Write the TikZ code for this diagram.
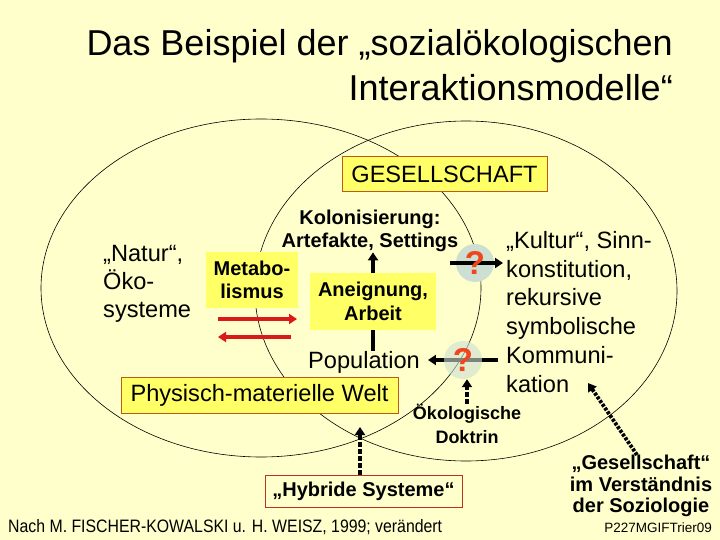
\documentclass[tikz,border=0pt]{standalone}
\usepackage{fontspec}
\setmainfont{Liberation Sans}
\newfontfamily\narrowsans[FakeStretch=0.88]{Liberation Sans}
\usepackage{tikz}
\usetikzlibrary{positioning,arrows.meta,calc}
\definecolor{paper}{RGB}{255,255,204}
\definecolor{boxyellow}{RGB}{255,255,102}
\definecolor{rimorange}{RGB}{190,90,25}
\definecolor{rimred}{RGB}{190,50,30}
\definecolor{arrowred}{RGB}{220,25,25}
\definecolor{qred}{RGB}{240,70,30}
\definecolor{qgray}{RGB}{205,222,210}

\begin{document}
\begin{tikzpicture}[x=1pt,y=-1pt,
  every node/.style={inner sep=0pt},
  txt/.style={font=\fontsize{23.6}{28.8}\selectfont, align=left},
  boldtxt/.style={font=\bfseries\fontsize{20}{23.5}\selectfont, align=center},
  framebox/.style={fill=boxyellow, draw=rimorange, line width=1pt},
  plainbox/.style={fill=boxyellow},
  hybbox/.style={fill=paper, draw=rimred, line width=1pt},
  thickarr/.style={-{Triangle[length=8pt,width=10pt]}, line width=3.6pt},
  redarr/.style={-{Triangle[length=8pt,width=10pt]}, line width=3.4pt, color=arrowred},
  dasharr/.style={thickarr, dash pattern=on 5pt off 2pt},
  dotarr/.style={thickarr, line width=3.8pt, dash pattern=on 3pt off 1.5pt},
  qdisc/.style={circle, minimum size=38pt, fill=qgray},
  qmark/.style={font=\bfseries\fontsize{33}{33}\selectfont, text=qred}
]
  \fill[paper] (0,0) rectangle (720,540);
  \useasboundingbox (0,0) rectangle (720,540);

  \node[anchor=north east, align=right, font=\fontsize{36}{45}\selectfont] (titel) at (673,29)
    {Das Beispiel der „sozialökologischen\\Interaktionsmodelle“};

  \draw[line width=0.6pt] (261,288) ellipse [x radius=220, y radius=169];
  \draw[line width=0.6pt] (466,291) ellipse [x radius=211, y radius=170];

  \node[framebox, minimum width=205pt, minimum height=35pt, font=\fontsize{23.6}{23.6}\selectfont] (gesell) at (444.5,174.5) {GESELLSCHAFT};
  \node[boldtxt] (kolon) at (370,231) {Kolonisierung:\\Artefakte, Settings};
  \node[txt, anchor=north west, font=\fontsize{23.6}{28}\selectfont] (natur) at (103,245) {„Natur“,\\Öko-\\systeme};
  \node[plainbox, boldtxt, minimum width=92pt, minimum height=56pt] (metab) at (252,280) {Metabo-\\lismus};
  \node[plainbox, boldtxt, minimum width=126pt, minimum height=57pt] (aneig) at (373,301.5) {Aneignung,\\Arbeit};
  \node[txt] (popul) at (364,362) {Population};
  \node[framebox, txt, minimum width=277pt, minimum height=36pt] (welt) at (259.5,395) {Physisch-materielle Welt};
  \node[txt, anchor=north west] (kultur) at (506,231)
    {„Kultur“, Sinn-\\konstitution,\\rekursive\\symbolische\\Kommuni-\\kation};
  \node[boldtxt, font=\bfseries\fontsize{18}{24}\selectfont] (oeko) at (467,424) {Ökologische\\Doktrin};
  \node[hybbox, boldtxt, minimum width=197pt, minimum height=32pt] (hybrid) at (363.5,491) {„Hybride Systeme“};
  \node[boldtxt, font=\bfseries\fontsize{20}{21.5}\selectfont] (sozio) at (641,486) {„Gesellschaft“\\im Verständnis\\der Soziologie};
  \node[anchor=base west, font=\narrowsans\fontsize{18}{18}\selectfont] (quelle) at (8,532) {Nach M. FISCHER-KOWALSKI u. H. WEISZ, 1999; verändert};
  \node[anchor=base east, font=\fontsize{13.5}{13.5}\selectfont] (kennung) at (712,532) {P227MGIFTrier09};

  \draw[thickarr] (aneig.north) -- (aneig.north |- kolon.south);
  \draw[line width=3.6pt] (aneig.south) -- (aneig.south |- popul.north);

  \coordinate (hin0) at (218,319);
  \coordinate (hin1) at (297,319);
  \coordinate (her0) at (291,337);
  \coordinate (her1) at (218,337);
  \draw[redarr] (hin0) -- (hin1);
  \draw[redarr] (her0) -- (her1);

  \node[qdisc] (q1) at (475,263) {};
  \draw[thickarr] ([xshift=-6pt]q1.west) -- ([xshift=-3pt]kultur.west |- q1);
  \node[qmark] (q1m) at (q1) {?};

  \coordinate (q2c) at (463,360);
  \draw[thickarr] ([xshift=-8pt]kultur.west |- q2c) -- ([xshift=8pt]popul.east |- q2c);
  \node[qdisc, fill opacity=0.6] (q2) at (q2c) {};
  \node[qmark] (q2m) at (q2c) {?};
  \draw[dasharr] (oeko.north) -- (oeko.north |- q2.south);

  \coordinate (kreuz) at (360,427);
  \draw[dasharr] (hybrid.north -| kreuz) -- (kreuz);

  \coordinate (kation) at (588,383);
  \draw[dotarr] ([xshift=-4pt]sozio.north) -- (kation);
\end{tikzpicture}
\end{document}
